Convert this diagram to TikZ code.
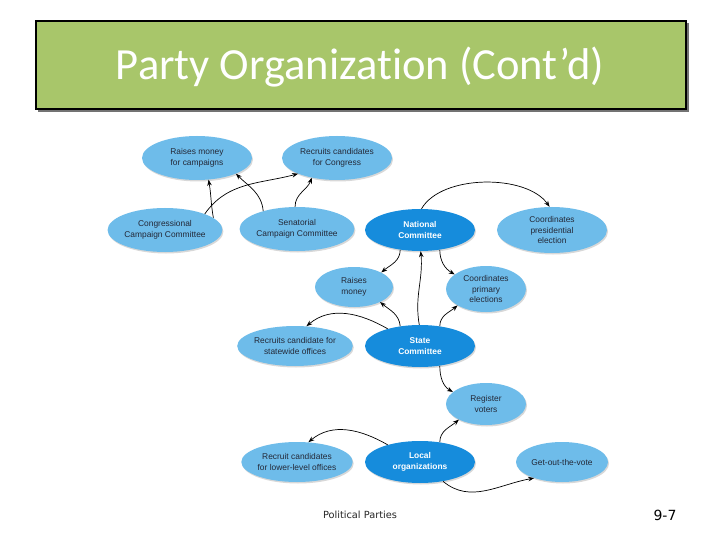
\documentclass[tikz,border=0pt]{standalone}
\usepackage{fontspec}
\setmainfont{Liberation Sans}
\newfontfamily\titlefont[Ligatures=NoCommon]{Carlito}
\newfontfamily\footfont{DejaVu Sans}
\usetikzlibrary{shapes.geometric,arrows.meta,shadows}
\definecolor{lightblue}{RGB}{110,188,234}
\definecolor{darkblue}{RGB}{22,140,220}
\definecolor{textgray}{RGB}{35,40,55}
\definecolor{titlegreen}{RGB}{168,198,106}
\tikzset{
  lb/.style={ellipse, fill=lightblue, inner sep=0pt, minimum width=110pt, minimum height=44pt,
    align=center, font=\fontsize{8.4}{11.5}\selectfont, text=textgray,
    drop shadow={shadow xshift=1pt, shadow yshift=-1.5pt, fill=black!30, opacity=0.5}},
  db/.style={lb, fill=darkblue, text=white, font=\fontsize{8.4}{11.5}\selectfont\bfseries},
  arr/.style={-{Stealth[length=6pt,width=4.5pt]}, line width=0.7pt, black}
}
\begin{document}
\begin{tikzpicture}[x=1pt,y=-1pt]
\useasboundingbox (0,0) rectangle (720,540);
\fill[white] (0,0) rectangle (720,540);
% title
\fill[black!55] (38,23) rectangle (689,112);
\node[draw=black, line width=1.6pt, fill=titlegreen, minimum width=650pt, minimum height=88pt,
  anchor=north west, inner sep=0pt] (title) at (35,20) {};
\node[text=white, font=\titlefont\fontsize{44.5}{48}\selectfont] (ttext) at (360,67) {Party Organization (Cont’d)};
% nodes
\node[lb] (rmc) at (197,158) {Raises money\\for campaigns};
\node[lb] (rc) at (337,158) {Recruits candidates\\for Congress};
\node[lb] (cong) at (165,230) {Congressional\\Campaign Committee};
\node[lb] (sen) at (297,229) {Senatorial\\Campaign Committee};
\node[db, minimum height=42pt] (nat) at (420,230) {National\\Committee};
\node[lb, minimum height=46pt, font=\fontsize{8.4}{10.5}\selectfont] (cp) at (552,230) {Coordinates\\presidential\\election};
\node[lb, minimum width=78pt, minimum height=40pt] (rm) at (354,287) {Raises\\money};
\node[lb, minimum width=80pt, minimum height=46pt, font=\fontsize{8.4}{10.5}\selectfont] (pe) at (486,289) {Coordinates\\primary\\elections};
\node[lb, minimum width=106pt, minimum height=40pt] (rs) at (295,346) {Recruits candidate for\\statewide offices};
\node[db, minimum height=42pt] (st) at (420,346) {State\\Committee};
\node[lb, minimum width=80pt, minimum height=42pt] (rv) at (486,404) {Register\\voters};
\node[lb, minimum width=108pt, minimum height=40pt] (rl) at (297,462) {Recruit candidates\\for lower-level offices};
\node[db, minimum height=42pt] (loc) at (420,462) {Local\\organizations};
\node[lb, minimum width=92pt, minimum height=40pt] (gv) at (562,462) {Get-out-the-vote};
% connectors
\draw[arr] (cong.14) to[out=100,in=-80] (rmc.-62);
\draw[arr] (cong.22) to[out=55,in=-165] (rc.-158);
\draw[arr] (sen.152) to[out=95,in=-45] (rmc.-22);
\draw[arr] (sen.95) to[out=90,in=-110] (rc.-142);
\draw[arr] (nat.86) to[out=60,in=125,looseness=0.8] (cp.96);
\draw[arr] (nat.-135) to[out=-90,in=40] (rm.28);
\draw[arr] (st.92) to[out=100,in=-85] (nat.-88);
\draw[arr] (nat.-45) to[out=-90,in=150] (pe.155);
\draw[arr] (st.135) to[out=95,in=-40] (rm.-30);
\draw[arr] (st.45) to[out=90,in=-140] (pe.-150);
\draw[arr] (st.152) to[out=150,in=40] (rs.60);
\draw[arr] (st.-45) to[out=-90,in=150] (rv.160);
\draw[arr] (loc.45) to[out=90,in=-140] (rv.-150);
\draw[arr] (loc.152) to[out=150,in=40] (rl.60);
\draw[arr] (loc.-40) to[out=-40,in=-170] (gv.-150);
% footer
\node[font=\footfont\fontsize{9.8}{11}\selectfont, text=black!85] (foot) at (360,515) {Political Parties};
\node[font=\footfont\fontsize{14}{16}\selectfont] (pg) at (665,515) {9-7};
\end{tikzpicture}
\end{document}
